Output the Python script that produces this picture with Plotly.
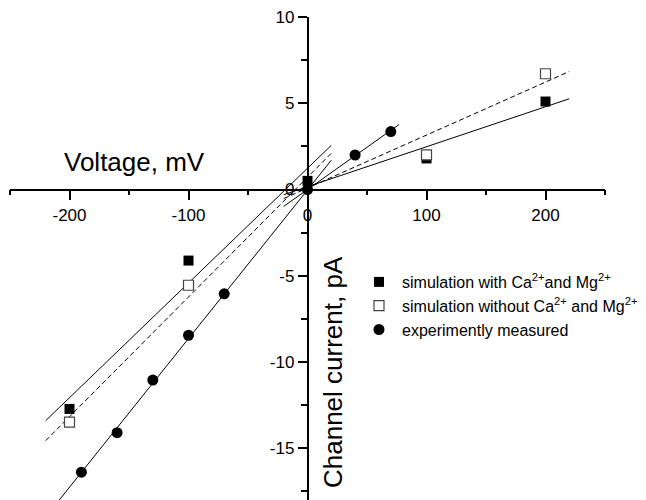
import plotly.graph_objects as go

# ---- data ----
with_x = [-200, -100, 0, 100, 200]
with_y = [-12.72, -4.12, 0.5, 1.8, 5.10]

without_x = [-200, -100, 100, 200]
without_y = [-13.49, -5.55, 2.01, 6.71]

exp_x = [-190, -160, -130, -100, -70, 0, 40, 70]
exp_y = [-16.39, -14.1, -11.05, -8.45, -6.05, 0, 2.0, 3.36]

# fitted lines (end points)
fit_with_neg_x = [-220, 20]
fit_with_neg_y = [-13.40, 2.56]
fit_with_pos_x = [-20, 220]
fit_with_pos_y = [-0.30, 5.26]
fit_without_neg_x = [-220, 20]
fit_without_neg_y = [-14.56, 2.10]
fit_without_pos_x = [-20, 220]
fit_without_pos_y = [-0.53, 6.84]
fit_exp_neg_x = [-220, 20]
fit_exp_neg_y = [-18.98, 1.70]
fit_exp_pos_x = [-20, 77]
fit_exp_pos_y = [-0.98, 3.77]

# axes
x_range = [-250, 250]
y_range = [-18, 10]
x_tickvals = [-200, -100, 0, 100, 200]
x_ticktext = ["-200", "-100", "0", "100", "200"]
y_tickvals = [-15, -10, -5, 0, 5, 10]
y_ticktext = ["-15", "-10", "-5", "0", "5", "10"]

FONT = "Liberation Sans, Arial, sans-serif"

fig = go.Figure()

solid = dict(color="black", width=1)
dashed = dict(color="black", width=1, dash="5px,3px")
for fx, fy, ln in [
    (fit_with_neg_x, fit_with_neg_y, solid),
    (fit_with_pos_x, fit_with_pos_y, solid),
    (fit_without_neg_x, fit_without_neg_y, dashed),
    (fit_without_pos_x, fit_without_pos_y, dashed),
    (fit_exp_neg_x, fit_exp_neg_y, solid),
    (fit_exp_pos_x, fit_exp_pos_y, solid),
]:
    fig.add_trace(go.Scatter(x=fx, y=fy, mode="lines", line=ln,
                             showlegend=False, hoverinfo="skip"))

fig.add_trace(go.Scatter(
    x=with_x, y=with_y, mode="markers",
    name="simulation with Ca<sup>2+</sup>and Mg<sup>2+</sup>",
    marker=dict(symbol="square", size=10, color="black",
                line=dict(width=0))))
fig.add_trace(go.Scatter(
    x=without_x, y=without_y, mode="markers",
    name="simulation without Ca<sup>2+</sup> and Mg<sup>2+</sup>",
    marker=dict(symbol="square", size=10, color="white",
                line=dict(width=1.2, color="#444"))))
fig.add_trace(go.Scatter(
    x=exp_x, y=exp_y, mode="markers",
    name="experimently measured",
    marker=dict(symbol="circle", size=11, color="black",
                line=dict(width=0))))

ml, mr, mt, mb = 10, 41, 17, 0
W, H = 646, 500
pw, ph = W - ml - mr, H - mt - mb


def px_x(p):
    return (p - ml) / pw


def px_y(p):
    return (H - mb - p) / ph


fig.update_layout(
    width=W, height=H,
    margin=dict(l=ml, r=mr, t=mt, b=mb, pad=0),
    plot_bgcolor="white", paper_bgcolor="white",
    font=dict(family=FONT, color="black", size=17),
    xaxis=dict(
        range=x_range, anchor="free",
        position=(0 - y_range[0]) / (y_range[1] - y_range[0]),
        showline=True, linecolor="black", linewidth=1.5,
        ticks="outside", ticklen=10, tickwidth=1.5, tickcolor="black",
        tickmode="array", tickvals=x_tickvals, ticktext=x_ticktext,
        minor=dict(ticks="outside", ticklen=5, tickwidth=1.5,
                   tickcolor="black", tickmode="linear", dtick=50, tick0=0,
                   showgrid=False),
        showgrid=False, zeroline=False,
        tickfont=dict(size=17, family=FONT),
    ),
    yaxis=dict(
        range=y_range, anchor="free",
        position=(0 - x_range[0]) / (x_range[1] - x_range[0]),
        showline=True, linecolor="black", linewidth=1.5,
        ticks="outside", ticklen=9, tickwidth=1.5, tickcolor="black",
        tickmode="array", tickvals=y_tickvals, ticktext=y_ticktext,
        minor=dict(ticks="outside", ticklen=6, tickwidth=1.5,
                   tickcolor="black", tickmode="linear", dtick=2.5, tick0=0,
                   showgrid=False),
        showgrid=False, zeroline=False,
        tickfont=dict(size=17, family=FONT),
    ),
    legend=dict(
        x=px_x(356), y=px_y(265), xanchor="left", yanchor="top",
        bgcolor="rgba(0,0,0,0)", font=dict(size=16, family=FONT),
        tracegroupgap=0, itemwidth=36,
    ),
    annotations=[
        dict(text="Voltage, mV", xref="paper", yref="paper",
             x=px_x(62), y=px_y(162), xanchor="left", yanchor="middle",
             showarrow=False, font=dict(size=26, family=FONT)),
        dict(text="Channel current, pA", xref="paper", yref="paper",
             x=px_x(333), y=px_y(372), xanchor="center", yanchor="middle",
             textangle=-90, showarrow=False,
             font=dict(size=26, family=FONT)),
    ],
)

fig.write_html("out.html")
